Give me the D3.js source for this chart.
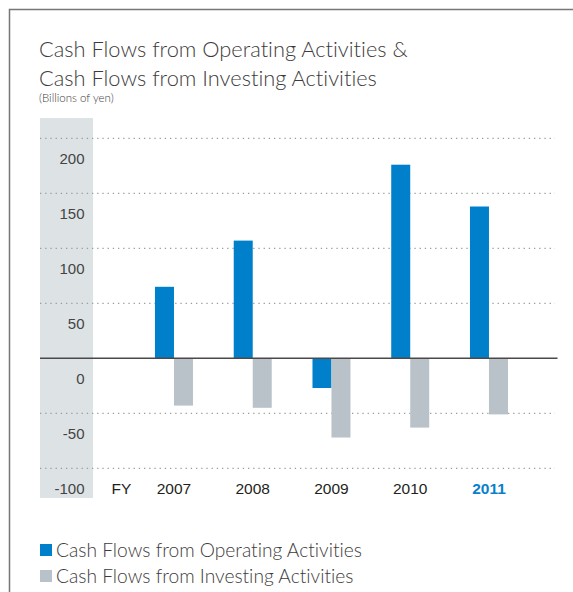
<!DOCTYPE html>
<html><head><meta charset="utf-8">
<script src="https://cdn.jsdelivr.net/npm/d3@7"></script>
<style>html,body{margin:0;padding:0;background:#fff;} svg{display:block} text{font-variant-ligatures:none;font-feature-settings:"liga" 0,"clig" 0,"dlig" 0;}</style>
</head><body>
<svg id="chart" width="573" height="592"></svg>
<script>
// Fiscal years and cash flow values (billions of yen)
const years = ["2007", "2008", "2009", "2010", "2011"];
const operating = [65, 107, -27, 176, 138];
const investing = [-43, -45, -72, -63, -51];
const seriesNames = ["Cash Flows from Operating Activities", "Cash Flows from Investing Activities"];
const yTicks = [200, 150, 100, 50, 0, -50, -100];
const titleLines = ["Cash Flows from Operating Activities &", "Cash Flows from Investing Activities"];
const unitLabel = "(Billions of yen)";
const fyLabel = "FY";
const highlightYear = "2011";

const W = 573, H = 592;
const svg = d3.select("#chart");
const titleFont = "Lato, 'Open Sans', sans-serif";
const numFont = "'Liberation Sans', Arial, sans-serif";

const y = d3.scaleLinear().domain([-100, 200]).range([468.3, 138.3]);
const x = d3.scaleBand().domain(years).range([134.6, 528.35])
  .paddingInner(0.5175).paddingOuter(0.25875);
const xs = d3.scaleBand().domain(["op", "inv"]).range([0, x.bandwidth()]);
const colors = { op: "#0080cb", inv: "#bac2c9" };

// Frame (top and left edges)
svg.append("path")
  .attr("d", `M9.5,${H} V9.5 H${W}`)
  .attr("fill", "none").attr("stroke", "#7a7575").attr("stroke-width", 1.5);

// Title block
const title = svg.append("g").attr("font-family", titleFont).attr("fill", "#3d3b3b");
title.selectAll("text.t").data(titleLines).join("text")
  .attr("class", "t")
  .attr("x", 39).attr("y", (d, i) => 57 + i * 28.5)
  .attr("font-size", "21.8px").attr("font-weight", 300)
  .text(d => d);
title.append("text")
  .attr("x", 39).attr("y", 101.5)
  .attr("font-size", "11.5px").attr("font-weight", 300)
  .text(unitLabel);

// Shaded column behind the value labels
svg.append("rect")
  .attr("x", 40).attr("y", 118).attr("width", 53).attr("height", 380)
  .attr("fill", "#dde2e4");

// Dotted gridlines
svg.append("g").selectAll("line")
  .data(yTicks.filter(v => v !== 0)).join("line")
  .attr("x1", 40).attr("x2", 555)
  .attr("y1", d => y(d)).attr("y2", d => y(d))
  .attr("stroke", "#9c9c9c").attr("stroke-width", 1.3)
  .attr("stroke-dasharray", "1.3,3.9");

// Value labels, set in the band below each gridline
const yAxis = svg.append("g")
  .attr("transform", "translate(84.5,20)")
  .call(d3.axisLeft(y).tickValues(yTicks).tickSize(0).tickPadding(0).tickFormat(d => String(d)));
yAxis.select(".domain").remove();
yAxis.selectAll("text")
  .attr("font-family", numFont).attr("font-size", "15px").attr("fill", "#444");

// Bars
const groups = svg.append("g").selectAll("g")
  .data(years).join("g")
  .attr("transform", d => `translate(${x(d)},0)`);
groups.selectAll("rect")
  .data((d, i) => [{ k: "op", v: operating[i] }, { k: "inv", v: investing[i] }])
  .join("rect")
  .attr("x", d => xs(d.k)).attr("width", xs.bandwidth())
  .attr("y", d => y(Math.max(0, d.v)))
  .attr("height", d => Math.abs(y(d.v) - y(0)))
  .attr("fill", d => colors[d.k]);

// Zero baseline
svg.append("line")
  .attr("x1", 40).attr("x2", 557.5)
  .attr("y1", y(0)).attr("y2", y(0))
  .attr("stroke", "#4d4848").attr("stroke-width", 1.5);

// Year labels
const xLab = svg.append("g").attr("font-family", numFont).attr("font-size", "15.5px");
xLab.append("text").attr("x", 111.5).attr("y", 493.5).attr("fill", "#231f20").text(fyLabel);
xLab.selectAll("text.yr").data(years).join("text")
  .attr("class", "yr")
  .attr("x", d => x(d) + x.bandwidth() / 2).attr("y", 493.5)
  .attr("text-anchor", "middle")
  .attr("fill", d => d === highlightYear ? "#0a80cc" : "#231f20")
  .attr("font-weight", d => d === highlightYear ? "bold" : "normal")
  .text(d => d);

// Legend
const legend = svg.append("g").selectAll("g")
  .data(seriesNames).join("g")
  .attr("transform", (d, i) => `translate(40,${544 + i * 26})`);
legend.append("rect")
  .attr("width", 12).attr("height", 12)
  .attr("fill", (d, i) => i === 0 ? colors.op : colors.inv);
legend.append("text")
  .attr("x", 16).attr("y", 12.5)
  .attr("font-family", titleFont).attr("font-size", "19.2px").attr("font-weight", 300)
  .attr("fill", "#3d3b3b")
  .text(d => d);
</script>
</body></html>
